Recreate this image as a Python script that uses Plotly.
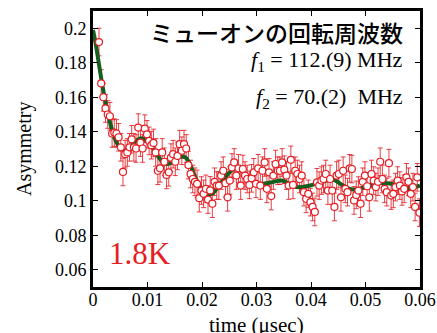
import plotly.graph_objects as go

# Muon spin rotation asymmetry at 1.8 K
t_start = 0.0011      # first time bin (usec)
t_step = 0.0004       # bin width (usec)
asym = [
    0.192, 0.168, 0.160, 0.1535, 0.150, 0.149, 0.139, 0.1395, 0.139, 0.1368,
    0.131, 0.1167, 0.127, 0.128, 0.131, 0.1356, 0.131, 0.1303, 0.1424, 0.1337,
    0.1303, 0.1418, 0.1385, 0.1347, 0.1322, 0.1335, 0.128, 0.1174, 0.1188, 0.128,
    0.1226, 0.115, 0.1165, 0.125, 0.127, 0.1226, 0.126, 0.1328, 0.129, 0.1328,
    0.1303, 0.1207, 0.1155, 0.1126, 0.111, 0.1098, 0.1015, 0.1059, 0.104, 0.1069,
    0.1007, 0.106, 0.0983, 0.111, 0.1088, 0.1088, 0.1146, 0.1174, 0.1102, 0.102,
    0.1117, 0.1193, 0.1222, 0.1146, 0.1188, 0.1088, 0.1184, 0.1146, 0.1126, 0.1092,
    0.113, 0.1165, 0.1098, 0.1188, 0.1088, 0.1174, 0.1222, 0.1069, 0.1165, 0.1027,
    0.1146, 0.1213, 0.1174, 0.1174, 0.1222, 0.118, 0.1146, 0.1088, 0.1237, 0.1092,
    0.1174, 0.1155, 0.1126, 0.1146, 0.105, 0.1011, 0.104, 0.0992, 0.0964, 0.0935,
    0.1107, 0.1088, 0.1117, 0.1126, 0.1155, 0.1059, 0.1126, 0.1059, 0.0964, 0.1146,
    0.1155, 0.102, 0.1174, 0.1069, 0.105, 0.1188, 0.1184, 0.1002, 0.1034, 0.1059,
    0.0983, 0.111, 0.1146, 0.1084, 0.102, 0.1155, 0.1117, 0.1079, 0.111, 0.1226,
    0.1126, 0.1069, 0.105, 0.1218, 0.103, 0.104, 0.1079, 0.1117, 0.1088, 0.1054,
    0.1069, 0.1136, 0.111, 0.104, 0.1079, 0.0964, 0.1136, 0.0931,
]
asym_err = 0.008
time = [round(t_start + t_step * i, 5) for i in range(len(asym))]

# Two-frequency fit curve
fit_t = [0.0, 0.0005, 0.001, 0.0015, 0.002, 0.0025, 0.003, 0.0035, 0.004, 0.005,
         0.006, 0.007, 0.008, 0.009, 0.010, 0.011, 0.012, 0.013, 0.014, 0.015,
         0.016, 0.017, 0.018, 0.019, 0.020, 0.021, 0.022, 0.024, 0.0257, 0.0273,
         0.0288, 0.0303, 0.0328, 0.0346, 0.0374, 0.0398, 0.0417, 0.0441, 0.0466,
         0.0484, 0.0502, 0.053, 0.0548, 0.0576, 0.060]
fit_y = [0.199, 0.191, 0.181, 0.171, 0.162, 0.154, 0.147, 0.141, 0.136, 0.1305,
         0.129, 0.1315, 0.135, 0.1362, 0.134, 0.1305, 0.1255, 0.1218, 0.1215, 0.1235,
         0.1255, 0.125, 0.1195, 0.112, 0.106, 0.1035, 0.1045, 0.1125, 0.118, 0.1175,
         0.1117, 0.1098, 0.1107, 0.1117, 0.1079, 0.1088, 0.1107, 0.1122, 0.1073,
         0.1065, 0.1084, 0.1103, 0.1098, 0.1073, 0.1088]

x_ticks = [0, 0.01, 0.02, 0.03, 0.04, 0.05, 0.06]
x_ticktext = ["0", "0.01", "0.02", "0.03", "0.04", "0.05", "0.06"]
y_ticks = [0.06, 0.08, 0.10, 0.12, 0.14, 0.16, 0.18, 0.20]
y_ticktext = ["0.06", "0.08", "0.1", "0.12", "0.14", "0.16", "0.18", "0.2"]

RED = "rgb(228,30,36)"
GREEN = "rgb(18,95,30)"
SERIF = "'Liberation Serif', 'Times New Roman', serif"

fig = go.Figure()

# error bars underneath the fit
fig.add_trace(go.Scatter(
    x=time, y=asym, mode="markers",
    marker=dict(size=1, color="rgba(0,0,0,0)"),
    error_y=dict(type="constant", value=asym_err, color="rgba(228,30,36,0.85)",
                 thickness=1, width=2.5),
    hoverinfo="skip", showlegend=False,
))

fig.add_trace(go.Scatter(
    x=fit_t, y=fit_y, mode="lines", line_shape="spline",
    line=dict(color=GREEN, width=4), showlegend=False,
))

# open circles on top
fig.add_trace(go.Scatter(
    x=time, y=asym, mode="markers",
    marker=dict(symbol="circle", size=7, color="white",
                line=dict(color=RED, width=1.2)),
    showlegend=False,
))

axis_common = dict(
    ticks="inside", ticklen=5, tickwidth=1, tickcolor="black",
    showline=True, linewidth=3, linecolor="black", mirror="ticks",
    showgrid=False, zeroline=False, automargin=False,
    tickfont=dict(family=SERIF, size=18, color="black"),
)
fig.update_xaxes(range=[0, 0.06], tickvals=x_ticks, ticktext=x_ticktext,
                 ticklabelstandoff=-6, **axis_common)
fig.update_yaxes(range=[0.05, 0.21], tickvals=y_ticks, ticktext=y_ticktext, **axis_common)

annotations = [
    dict(text="ミューオンの回転周波数", x=0.955, y=0.924, xanchor="right", yanchor="middle",
         font=dict(family="Noto Sans CJK JP", size=23, color="black", weight=500)),
    dict(text="<i>f</i><sub>1</sub> = 112.(9) MHz", x=0.955, y=0.818,
         xanchor="right", yanchor="middle",
         font=dict(family=SERIF, size=22, color="black")),
    dict(text="<i>f</i><sub>2</sub> = 70.(2)  MHz", x=0.955, y=0.684,
         xanchor="right", yanchor="middle",
         font=dict(family=SERIF, size=22, color="black")),
    dict(text="1.8K", x=0.043, y=0.12, xanchor="left", yanchor="middle",
         font=dict(family=SERIF, size=31, color=RED)),
    dict(text="Asymmetry", x=-0.211, y=0.5, textangle=-90,
         xanchor="center", yanchor="middle",
         font=dict(family=SERIF, size=20, color="black")),
    dict(text="time (μsec)", x=0.5, y=-0.138, xanchor="center", yanchor="middle",
         font=dict(family=SERIF, size=21, color="black")),
]
for a in annotations:
    a.update(xref="paper", yref="paper", showarrow=False)
fig.update_layout(
    annotations=annotations,
    width=437, height=333,
    margin=dict(l=93, r=17, t=11, b=46),
    paper_bgcolor="white", plot_bgcolor="white",
)

fig.write_html("out.html")
